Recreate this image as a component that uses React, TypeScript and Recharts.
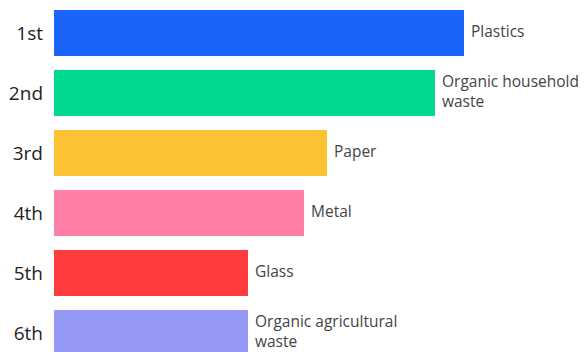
import React from 'react';
import { BarChart, Bar, XAxis, YAxis, Cell, LabelList } from 'recharts';

// ranking of waste types (relative amounts)
const ranks = ['1st', '2nd', '3rd', '4th', '5th', '6th'];
const materials = ['Plastics', 'Organic household\nwaste', 'Paper', 'Metal', 'Glass', 'Organic agricultural\nwaste'];
const amounts = [82, 76.2, 54.6, 50, 38.8, 38.8];

const COLORS = ['#1b64fb', '#02d88e', '#fcc234', '#ff7fa7', '#fe3c3d', '#9599f3'];

const data = ranks.map((rank, i) => ({ rank, material: materials[i], amount: amounts[i] }));

const FONT = '"Open Sans", sans-serif';

const renderLabel = (props: any) => {
  const { x, y, width, height, value } = props;
  const lines = String(value).split('\n');
  const lineH = 20;
  const cy = y + height / 2 - ((lines.length - 1) * lineH) / 2 - 1;
  return (
    <text
      x={x + width + 7}
      y={cy}
      fill="#444"
      fontSize={15.5}
      fontFamily={FONT}
      textAnchor="start"
    >
      {lines.map((l, i) => (
        <tspan key={i} x={x + width + 7} y={cy + i * lineH} dy="0.35em">
          {l}
        </tspan>
      ))}
    </text>
  );
};

const App: React.FC = () => {
  return (
    <div style={{ position: 'absolute', left: 0, top: 0, background: '#fff' }}>
      <BarChart
        width={585}
        height={366}
        data={data}
        layout="vertical"
        margin={{ top: 3, right: 31, bottom: 3, left: 0 }}
        barCategoryGap={14}
      >
        <XAxis type="number" domain={[0, 100]} hide />
        <YAxis
          type="category"
          dataKey="rank"
          width={54}
          axisLine={false}
          tickLine={false}
          tickSize={0}
          tickMargin={11}
          tick={{ fill: '#222', fontSize: 19, fontFamily: FONT }}
        />
        <Bar dataKey="amount" barSize={46} isAnimationActive={false}>
          {data.map((d, i) => (
            <Cell key={d.rank} fill={COLORS[i]} />
          ))}
          <LabelList dataKey="material" content={renderLabel} />
        </Bar>
      </BarChart>
    </div>
  );
};

export default App;
